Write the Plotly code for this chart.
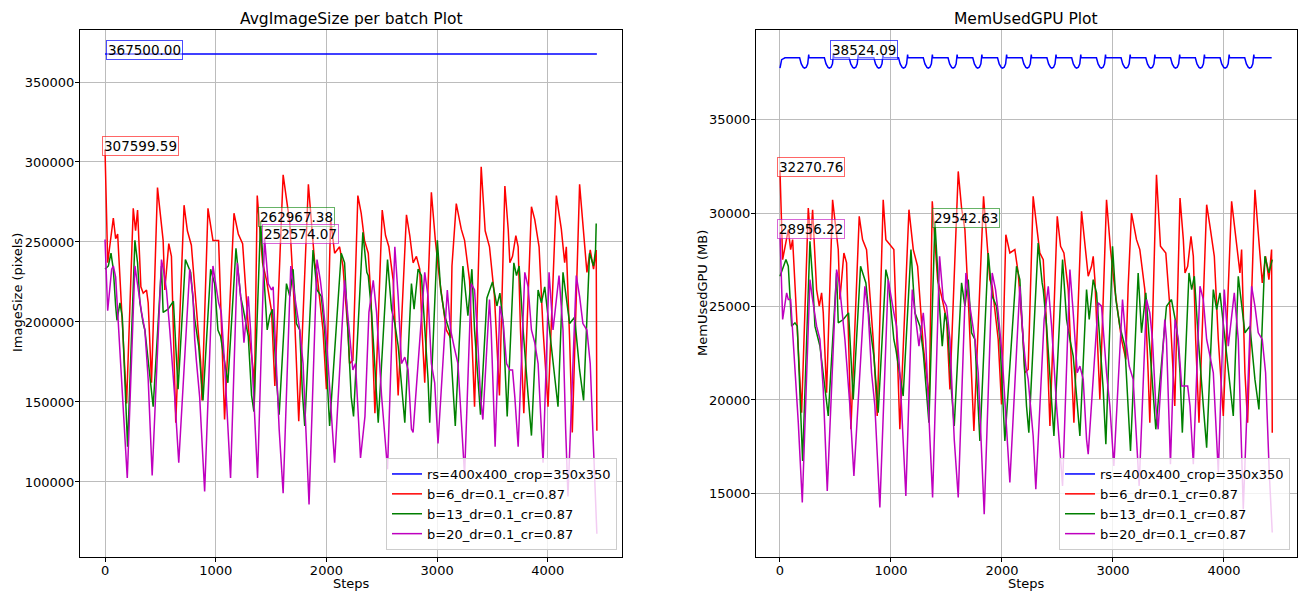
import plotly.graph_objects as go

# ---------------- AvgImageSize per batch (pixels) ----------------
img_rs_steps = [0, 4443]
img_rs_vals = [367500.00, 367500.00]

img_b6_steps = [0, 24, 75, 96, 114, 195, 255, 276, 294, 324, 345, 375, 390, 420, 474, 525, 540, 576, 600, 639,
                714, 744, 780, 840, 864, 876, 930, 975, 1026, 1080, 1165, 1204, 1243, 1294, 1339, 1348, 1375, 1423,
                1459, 1504, 1534, 1609, 1639, 1669, 1705, 1750, 1837, 1864, 1894, 1915, 1969, 2000, 2038, 2074,
                2119, 2149, 2194, 2209, 2239, 2284, 2314, 2344, 2378, 2402, 2438, 2504, 2534, 2564, 2603, 2648,
                2723, 2753, 2783, 2813, 2843, 2864, 2888, 2948, 2984, 3023, 3053, 3083, 3122, 3134, 3173, 3218,
                3248, 3293, 3323, 3338, 3398, 3434, 3473, 3518, 3563, 3612, 3642, 3657, 3681, 3711, 3732, 3753,
                3783, 3852, 3882, 3921, 3957, 4002, 4077, 4122, 4152, 4167, 4197, 4221, 4287, 4317, 4353, 4383,
                4413, 4437, 4443]
img_b6_vals = [307599.59, 237000, 265000, 252000, 255000, 149000, 271000, 257000, 270000, 222000, 218000, 220000,
               212000, 162000, 284000, 251000, 220000, 249000, 241000, 137000, 273000, 257000, 248000, 195000,
               175000, 151000, 271000, 251000, 251000, 139000, 268000, 255000, 249000, 197000, 170000, 147000,
               279000, 237000, 226000, 207000, 160000, 292000, 278000, 262000, 216000, 138000, 286000, 264000,
               237000, 230000, 195000, 158000, 264000, 243000, 247000, 235000, 195000, 174000, 176000, 279000,
               268000, 251000, 243000, 215000, 143000, 270000, 254000, 247000, 226000, 154000, 267000, 254000,
               237000, 241000, 233000, 195000, 162000, 281000, 251000, 226000, 212000, 195000, 190000, 235000,
               274000, 258000, 251000, 226000, 174000, 147000, 297000, 257000, 247000, 216000, 154000, 285000,
               258000, 237000, 241000, 254000, 247000, 195000, 143000, 272000, 264000, 247000, 195000, 147000,
               279000, 258000, 237000, 247000, 189000, 131000, 286000, 262000, 231000, 245000, 233000, 245000,
               132000]

img_b13_steps = [0, 30, 54, 75, 96, 108, 135, 156, 204, 270, 294, 315, 345, 360, 435, 510, 525, 570, 618, 630,
                 660, 726, 750, 774, 810, 846, 885, 954, 990, 1020, 1044, 1110, 1183, 1225, 1249, 1294, 1324, 1345,
                 1405, 1453, 1465, 1489, 1513, 1549, 1573, 1639, 1669, 1699, 1729, 1759, 1783, 1804, 1879, 1915,
                 1954, 1984, 2029, 2134, 2164, 2194, 2224, 2245, 2329, 2365, 2378, 2408, 2468, 2552, 2588, 2618,
                 2648, 2708, 2768, 2792, 2828, 2858, 2888, 2918, 2933, 3002, 3032, 3068, 3113, 3134, 3164, 3233,
                 3278, 3314, 3338, 3392, 3450, 3500, 3540, 3567, 3597, 3612, 3633, 3693, 3717, 3741, 3777, 3822,
                 3852, 3912, 3942, 3972, 4017, 4062, 4092, 4137, 4197, 4242, 4287, 4323, 4377, 4413, 4431, 4437]
img_b13_vals = [233000, 235000, 243000, 233000, 210000, 201000, 212000, 203000, 122000, 251000, 237000, 212000,
                199000, 195000, 147000, 235000, 206000, 208000, 213000, 195000, 158000, 239000, 235000, 231000,
                202000, 185000, 151000, 233000, 224000, 195000, 191000, 162000, 246000, 216000, 208000, 191000,
                154000, 144000, 262967.38, 208000, 195000, 204000, 208000, 164000, 142000, 224000, 216000, 233000,
                199000, 195000, 156000, 135000, 245000, 220000, 216000, 195000, 135000, 243000, 237000, 195000,
                153000, 141000, 256000, 231000, 229000, 206000, 137000, 239000, 208000, 199000, 185000, 137000,
                224000, 208000, 233000, 229000, 195000, 164000, 137000, 251000, 220000, 204000, 194000, 166000,
                135000, 235000, 204000, 233000, 195000, 142000, 215000, 225000, 210000, 218000, 199000, 174000,
                141000, 237000, 229000, 235000, 195000, 154000, 129000, 220000, 212000, 222000, 195000, 164000,
                147000, 231000, 199000, 203000, 170000, 151000, 243000, 235000, 245000, 261500]

img_b20_steps = [0, 24, 60, 75, 96, 120, 144, 165, 201, 270, 294, 306, 330, 360, 390, 426, 510, 534, 555, 585,
                 630, 666, 765, 795, 810, 825, 855, 900, 975, 1026, 1050, 1080, 1134, 1195, 1234, 1255, 1294, 1315,
                 1354, 1378, 1441, 1474, 1504, 1519, 1534, 1573, 1609, 1678, 1714, 1759, 1789, 1843, 1915, 1945,
                 1969, 2005, 2044, 2074, 2164, 2218, 2239, 2263, 2293, 2308, 2348, 2384, 2423, 2453, 2498, 2552,
                 2618, 2648, 2678, 2708, 2738, 2768, 2783, 2888, 2918, 2948, 2978, 3008, 3092, 3122, 3152, 3188,
                 3248, 3308, 3338, 3362, 3392, 3413, 3473, 3488, 3524, 3567, 3597, 3627, 3657, 3681, 3702, 3732,
                 3792, 3822, 3852, 3882, 3912, 3957, 4011, 4047, 4101, 4137, 4161, 4182, 4257, 4287, 4317, 4353,
                 4383, 4416, 4443]
img_b20_vals = [251500, 207000, 233000, 235000, 228000, 199000, 174000, 143000, 102500, 235000, 222000, 218000,
                206000, 195000, 164000, 104000, 239000, 230000, 220000, 195000, 153000, 112000, 233000, 216000,
                189000, 176000, 153000, 94000, 235000, 212000, 206000, 174000, 102500, 237000, 210000, 187000,
                216000, 195000, 133000, 102500, 252574.07, 224000, 220000, 222000, 195000, 133000, 93000, 235000,
                216000, 195000, 174000, 86000, 239000, 226000, 212000, 185000, 143000, 112000, 226000, 182000,
                170000, 174000, 133000, 115000, 141000, 206000, 226000, 206000, 154000, 108000, 247000, 216000,
                174000, 178000, 170000, 133000, 131000, 231000, 216000, 174000, 162000, 124000, 220000, 195000,
                185000, 174000, 104000, 224000, 220000, 195000, 153000, 139000, 214000, 195000, 122000, 210000,
                199000, 174000, 170000, 170000, 153000, 122000, 231000, 222000, 195000, 187000, 174000, 112000,
                231000, 195000, 229000, 195000, 133000, 91000, 229000, 216000, 199000, 195000, 174000, 112000,
                67600]

# ---------------- MemUsedGPU (MB) ----------------
gpu_rs_steps = [0, 15, 45,
                177, 192, 210, 222, 237, 250, 258, 259, 262,
                400, 415, 433, 445, 460, 473, 481, 482, 485,
                623, 638, 656, 668, 683, 696, 704, 705, 708,
                846, 861, 879, 891, 906, 919, 927, 928, 931,
                1068, 1083, 1101, 1113, 1128, 1141, 1149, 1150, 1153,
                1291, 1306, 1324, 1336, 1351, 1364, 1372, 1373, 1376,
                1514, 1529, 1547, 1559, 1574, 1587, 1595, 1596, 1599,
                1737, 1752, 1770, 1782, 1797, 1810, 1818, 1819, 1822,
                1960, 1975, 1993, 2005, 2020, 2033, 2041, 2042, 2045,
                2182, 2197, 2215, 2227, 2242, 2255, 2263, 2264, 2267,
                2405, 2420, 2438, 2450, 2465, 2478, 2486, 2487, 2490,
                2628, 2643, 2661, 2673, 2688, 2701, 2709, 2710, 2713,
                2851, 2866, 2884, 2896, 2911, 2924, 2932, 2933, 2936,
                3073, 3088, 3106, 3118, 3133, 3146, 3154, 3155, 3158,
                3296, 3311, 3329, 3341, 3356, 3369, 3377, 3378, 3381,
                3519, 3534, 3552, 3564, 3579, 3592, 3600, 3601, 3604,
                3742, 3757, 3775, 3787, 3802, 3815, 3823, 3824, 3827,
                3965, 3980, 3998, 4010, 4025, 4038, 4046, 4047, 4050,
                4187, 4202, 4220, 4232, 4247, 4260, 4268, 4269, 4272,
                4430]
gpu_rs_vals = [37750, 38200, 38300,
               38300, 37980, 37790, 37750, 37800, 37980, 38300, 38480, 38300,
               38300, 37980, 37790, 37750, 37800, 37980, 38300, 38524.09, 38300,
               38300, 37980, 37790, 37750, 37800, 37980, 38300, 38480, 38300,
               38300, 37980, 37790, 37750, 37800, 37980, 38300, 38480, 38300,
               38300, 37980, 37790, 37750, 37800, 37980, 38300, 38480, 38300,
               38300, 37980, 37790, 37750, 37800, 37980, 38300, 38480, 38300,
               38300, 37980, 37790, 37750, 37800, 37980, 38300, 38480, 38300,
               38300, 37980, 37790, 37750, 37800, 37980, 38300, 38480, 38300,
               38300, 37980, 37790, 37750, 37800, 37980, 38300, 38480, 38300,
               38300, 37980, 37790, 37750, 37800, 37980, 38300, 38480, 38300,
               38300, 37980, 37790, 37750, 37800, 37980, 38300, 38480, 38300,
               38300, 37980, 37790, 37750, 37800, 37980, 38300, 38480, 38300,
               38300, 37980, 37790, 37750, 37800, 37980, 38300, 38480, 38300,
               38300, 37980, 37790, 37750, 37800, 37980, 38300, 38480, 38300,
               38300, 37980, 37790, 37750, 37800, 37980, 38300, 38480, 38300,
               38300, 37980, 37790, 37750, 37800, 37980, 38300, 38480, 38300,
               38300, 37980, 37790, 37750, 37800, 37980, 38300, 38480, 38300,
               38300, 37980, 37790, 37750, 37800, 37980, 38300, 38480, 38300,
               38300, 37980, 37790, 37750, 37800, 37980, 38300, 38480, 38300,
               38300]

gpu_b6_steps = [0, 24, 75, 96, 114, 195, 255, 276, 294, 330, 354, 375, 390, 420, 474, 525, 540, 576, 600, 639,
                714, 744, 780, 840, 876, 930, 954, 1026, 1080, 1162, 1201, 1240, 1291, 1321, 1345, 1372, 1420,
                1456, 1501, 1531, 1606, 1636, 1666, 1702, 1747, 1834, 1861, 1891, 1912, 1966, 1996, 2035, 2071,
                2116, 2146, 2191, 2206, 2236, 2281, 2311, 2341, 2372, 2396, 2432, 2498, 2528, 2558, 2597, 2648,
                2717, 2747, 2777, 2807, 2822, 2837, 2858, 2882, 2942, 2978, 3017, 3047, 3077, 3116, 3137, 3167,
                3212, 3242, 3287, 3317, 3332, 3392, 3428, 3476, 3512, 3557, 3604, 3634, 3649, 3673, 3703, 3724,
                3745, 3775, 3844, 3874, 3913, 3949, 3994, 4069, 4114, 4144, 4159, 4189, 4213, 4279, 4309, 4345,
                4375, 4405, 4429, 4435]
gpu_b6_vals = [32270.76, 27508, 29110, 28042, 28576, 19320, 30267, 28576, 30178, 25906, 25016, 25728, 24660,
               20388, 30712, 28042, 25372, 27864, 27330, 18430, 29822, 28576, 28042, 23236, 19142, 30712, 28576,
               28042, 18430, 30178, 28042, 27152, 22880, 21100, 20032, 30623, 26440, 25550, 24304, 20566, 32225,
               30267, 29110, 24660, 18341, 30890, 28932, 26440, 26084, 23236, 19765, 28843, 27864, 28042, 26796,
               23236, 21456, 21634, 30890, 29288, 27864, 27508, 24660, 18608, 29822, 28220, 27864, 25906, 18786,
               30089, 28220, 26618, 27152, 27686, 26440, 23236, 20032, 30712, 28042, 25906, 24660, 23236, 22168,
               26084, 30000, 28576, 28042, 25906, 21456, 18786, 32047, 28220, 27864, 25016, 19676, 30801, 28576,
               26796, 27152, 28754, 27686, 23236, 18786, 30445, 29288, 27686, 23236, 19142, 30623, 28220, 26796,
               28042, 21456, 18786, 31246, 28932, 26262, 27686, 26440, 28042, 18252]

gpu_b13_steps = [0, 30, 54, 75, 105, 135, 156, 204, 270, 294, 315, 345, 360, 435, 510, 525, 570, 618, 630, 660,
                 726, 774, 810, 846, 885, 954, 975, 1026, 1044, 1110, 1180, 1216, 1261, 1291, 1342, 1396, 1441,
                 1462, 1486, 1510, 1546, 1570, 1636, 1666, 1696, 1726, 1756, 1780, 1801, 1876, 1912, 1951, 1981,
                 2026, 2131, 2161, 2191, 2221, 2242, 2326, 2362, 2372, 2402, 2468, 2546, 2582, 2612, 2642, 2702,
                 2762, 2786, 2822, 2852, 2882, 2912, 2936, 2996, 3026, 3062, 3107, 3128, 3158, 3227, 3257, 3296,
                 3326, 3386, 3482, 3527, 3572, 3589, 3604, 3625, 3685, 3709, 3733, 3769, 3814, 3844, 3904, 3934,
                 3964, 4009, 4054, 4084, 4129, 4189, 4234, 4279, 4315, 4369, 4405, 4429, 4435]
gpu_b13_vals = [26618, 27152, 27508, 27152, 23948, 24126, 23948, 16739, 28487, 26440, 23948, 23236, 22880, 19142,
                26796, 24126, 24304, 24660, 23236, 20032, 27152, 26262, 23948, 22346, 19320, 26974, 26440, 23236,
                22702, 20210, 28042, 24660, 23948, 22524, 18786, 29542.63, 24660, 22880, 24660, 23948, 20388,
                18608, 26262, 25016, 26440, 23592, 23236, 20566, 17807, 27864, 25550, 25016, 23236, 17807, 27152,
                26440, 23236, 19676, 18252, 28398, 26262, 25906, 23948, 18074, 27508, 24304, 23236, 22346, 18074,
                25906, 24304, 26440, 25728, 23236, 20566, 17629, 28220, 25372, 23948, 22880, 20566, 17273, 26796,
                23592, 25728, 23236, 18430, 25016, 25372, 23948, 22880, 21456, 18252, 26796, 25906, 26618, 23236,
                19676, 17451, 25906, 24838, 25728, 23236, 20566, 19142, 26618, 23592, 23948, 21100, 19498, 27686,
                26796, 27330, 27508]

gpu_b20_steps = [0, 24, 60, 75, 96, 120, 144, 165, 201, 270, 294, 330, 360, 390, 426, 510, 534, 555, 585, 630,
                 666, 765, 795, 825, 855, 900, 975, 1026, 1050, 1080, 1134, 1192, 1231, 1252, 1291, 1312, 1351,
                 1375, 1438, 1471, 1501, 1531, 1570, 1606, 1675, 1711, 1756, 1786, 1840, 1912, 1942, 1966, 2002,
                 2041, 2071, 2161, 2191, 2215, 2236, 2281, 2305, 2380, 2417, 2447, 2492, 2546, 2612, 2642, 2678,
                 2702, 2732, 2762, 2777, 2867, 2897, 2942, 2972, 3008, 3086, 3116, 3146, 3182, 3236, 3302, 3332,
                 3356, 3386, 3407, 3467, 3482, 3518, 3559, 3589, 3619, 3673, 3694, 3724, 3784, 3814, 3844, 3874,
                 3904, 3949, 4003, 4039, 4093, 4129, 4153, 4174, 4249, 4279, 4309, 4345, 4375, 4408, 4435]
gpu_b20_vals = [28956.22, 24304, 25728, 25372, 25372, 23236, 20744, 18786, 14514, 26440, 25372, 23948, 23236,
                20566, 15137, 26974, 26262, 25016, 23236, 19676, 15938, 26084, 24660, 21456, 19676, 14247, 26440,
                24660, 23948, 21456, 14870, 25906, 23948, 22880, 24660, 23236, 17895, 14781, 27686, 25372, 25016,
                23236, 17895, 14781, 26796, 25016, 23236, 21456, 13891, 26796, 25906, 24660, 22346, 18786, 15582,
                26084, 23236, 21812, 21100, 18074, 15226, 24304, 26084, 23948, 19676, 15404, 26974, 24660, 21456,
                21812, 21100, 17895, 17095, 25194, 25016, 21456, 19676, 16472, 25372, 23236, 21812, 21100, 15404,
                25372, 24660, 23236, 19676, 18430, 24304, 23236, 16561, 24304, 23236, 20744, 20744, 19676, 16561,
                26084, 25372, 23236, 22346, 21456, 16116, 25906, 22880, 25728, 23236, 17895, 14158, 26084, 25016,
                23592, 23236, 21456, 16116, 12912]

series_names = ["rs=400x400_crop=350x350", "b=6_dr=0.1_cr=0.87",
                "b=13_dr=0.1_cr=0.87", "b=20_dr=0.1_cr=0.87"]
series_colors = ["#0000ff", "#ff0000", "#008000", "#bf00bf"]
box_colors = ["rgba(0,0,255,0.7)", "rgba(255,0,0,0.6)", "rgba(0,128,0,0.6)", "rgba(191,0,191,0.6)"]

img_series = [(img_rs_steps, img_rs_vals), (img_b6_steps, img_b6_vals),
              (img_b13_steps, img_b13_vals), (img_b20_steps, img_b20_vals)]
gpu_series = [(gpu_rs_steps, gpu_rs_vals), (gpu_b6_steps, gpu_b6_vals),
              (gpu_b13_steps, gpu_b13_vals), (gpu_b20_steps, gpu_b20_vals)]

FONT = "DejaVu Sans, Verdana, sans-serif"
fig = go.Figure()
annotations = []


def add_panel(series, xref, yref, legend_id, first_label_shift):
    for i, ((xs, ys), name, color, bcol) in enumerate(zip(series, series_names, series_colors, box_colors)):
        fig.add_trace(go.Scatter(x=xs, y=ys, mode="lines", name=name,
                                 line=dict(color=color, width=1.5),
                                 xaxis=xref, yaxis=yref, legend=legend_id,
                                 hoverinfo="skip"))
        # label the peak of each run with its value
        peak = max(ys)
        at = xs[ys.index(peak)]
        annotations.append(dict(
            x=at, y=peak, xref=xref, yref=yref, text=f"{peak:.2f}",
            showarrow=False, xanchor="left", yanchor="bottom",
            xshift=-3 + (first_label_shift if i == 0 else 0), yshift=-6,
            font=dict(family=FONT, size=13.5, color="#000000"),
            bgcolor="rgba(255,255,255,0.45)", bordercolor=bcol, borderwidth=1, borderpad=1))


add_panel(img_series, "x", "y", "legend", 4)
add_panel(gpu_series, "x2", "y2", "legend2", 0)

W, H = 1301, 591
left_dom = [80 / W, 622 / W]
right_dom = [756 / W, 1297 / W]
y_dom = [1 - 557 / H, 1 - 30 / H]

axis_common = dict(showline=True, linecolor="#000000", linewidth=1, mirror=True,
                   ticks="outside", ticklen=4, tickwidth=1, tickcolor="#000000",
                   showgrid=True, gridcolor="#bcbcbc", gridwidth=0.8, zeroline=False,
                   automargin=False, tickfont=dict(family=FONT, size=13, color="#000000"))

fig.update_layout(
    width=W, height=H,
    margin=dict(l=0, r=0, t=0, b=0),
    paper_bgcolor="#ffffff", plot_bgcolor="#ffffff",
    font=dict(family=FONT, size=13, color="#000000"),
    xaxis=dict(domain=left_dom, range=[-226, 4670], tickvals=[0, 1000, 2000, 3000, 4000],
               anchor="y", ticklabelstandoff=-3, **axis_common),
    yaxis=dict(domain=y_dom, range=[53100, 382500],
               tickvals=[100000, 150000, 200000, 250000, 300000, 350000],
               tickformat="d", anchor="x", ticklabelstandoff=-2, **axis_common),
    xaxis2=dict(domain=right_dom, range=[-216, 4658], tickvals=[0, 1000, 2000, 3000, 4000],
                anchor="y2", ticklabelstandoff=-3, **axis_common),
    yaxis2=dict(domain=y_dom, range=[11600, 39790],
                tickvals=[15000, 20000, 25000, 30000, 35000],
                tickformat="d", anchor="x2", ticklabelstandoff=-2, **axis_common),
    legend=dict(x=617 / W, y=1 - 550 / H, xanchor="right", yanchor="bottom",
                bgcolor="rgba(255,255,255,0.8)", bordercolor="#cccccc", borderwidth=1,
                font=dict(family=FONT, size=13, color="#000000"), traceorder="normal"),
    legend2=dict(x=1290 / W, y=1 - 550 / H, xanchor="right", yanchor="bottom",
                 bgcolor="rgba(255,255,255,0.8)", bordercolor="#cccccc", borderwidth=1,
                 font=dict(family=FONT, size=13, color="#000000"), traceorder="normal"),
    showlegend=True,
)

# panel titles and axis titles
text_items = [
    dict(x=351 / W, y=1 - 19 / H, text="AvgImageSize per batch Plot", size=15.5, angle=0),
    dict(x=1026 / W, y=1 - 19 / H, text="MemUsedGPU Plot", size=15.5, angle=0),
    dict(x=351 / W, y=1 - 583 / H, text="Steps", size=13, angle=0),
    dict(x=1026 / W, y=1 - 583 / H, text="Steps", size=13, angle=0),
    dict(x=17 / W, y=1 - 293 / H, text="ImageSize (pixels)", size=13, angle=-90),
    dict(x=702 / W, y=1 - 293 / H, text="MemUsedGPU (MB)", size=13, angle=-90),
]
for t in text_items:
    annotations.append(dict(x=t["x"], y=t["y"], xref="paper", yref="paper", text=t["text"],
                            showarrow=False, xanchor="center", yanchor="middle",
                            textangle=t["angle"], font=dict(family=FONT, size=t["size"], color="#000000")))

fig.update_layout(annotations=annotations)
fig.write_html("out.html")
